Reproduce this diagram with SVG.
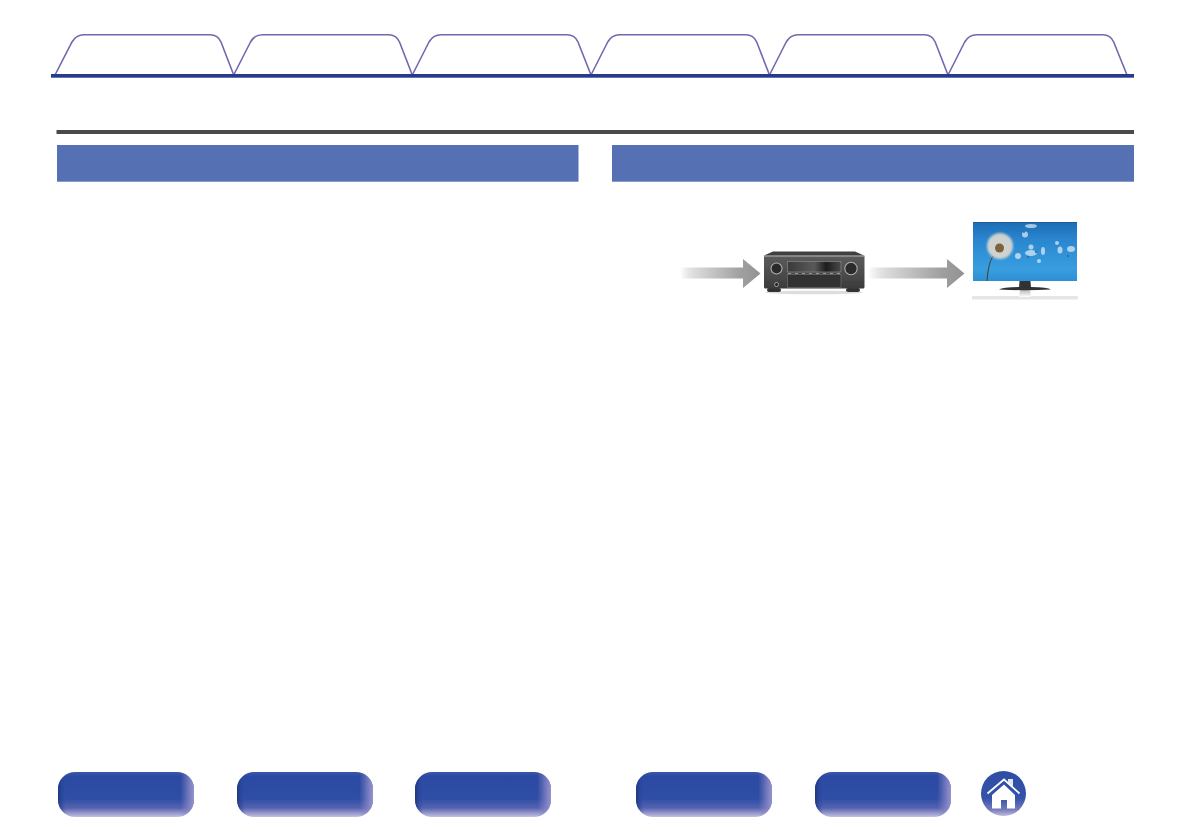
<svg xmlns="http://www.w3.org/2000/svg" width="1191" height="839" viewBox="0 0 1191 839">
<style>
.tab{fill:#fff;stroke:#7169b0;stroke-width:1.6}
.hdr{fill:#5570b3}
.rule{fill:#4a4a4a}
.base{fill:#243b8e}
.seed{fill:#fff;opacity:.6}
.seedd{fill:#34506f;opacity:.7}
</style>
<defs>
<linearGradient id="bv" x1="0" y1="0" x2="0" y2="1">
<stop offset="0" stop-color="#3a56a8"/><stop offset=".1" stop-color="#2c4aa2"/><stop offset=".6" stop-color="#2f4ea6"/><stop offset=".8" stop-color="#5563b0"/><stop offset="1" stop-color="#c5c0e0"/>
</linearGradient>
<linearGradient id="bh" x1="0" y1="0" x2="1" y2="0">
<stop offset="0" stop-color="#1f3378" stop-opacity=".85"/><stop offset=".06" stop-color="#2d4ca8" stop-opacity="0"/><stop offset=".9" stop-color="#8a86c4" stop-opacity="0"/><stop offset=".97" stop-color="#8f8bc8" stop-opacity=".8"/><stop offset="1" stop-color="#a09cd0" stop-opacity=".9"/>
</linearGradient>
<linearGradient id="hv" x1="0" y1="0" x2="0" y2="1">
<stop offset="0" stop-color="#2f4da5"/><stop offset=".6" stop-color="#3352a8"/><stop offset=".85" stop-color="#7379bb"/><stop offset="1" stop-color="#c0bbdd"/>
</linearGradient>
<linearGradient id="arr" x1="0" y1="0" x2="1" y2="0">
<stop offset="0" stop-color="#ccc" stop-opacity="0"/><stop offset=".18" stop-color="#dcdcdc"/><stop offset=".75" stop-color="#a0a0a0"/><stop offset="1" stop-color="#929292"/>
</linearGradient>
<linearGradient id="scr" x1="0" y1="0" x2="0" y2="1">
<stop offset="0" stop-color="#1d6db4"/><stop offset=".3" stop-color="#2a86cf"/><stop offset=".8" stop-color="#389ee0"/><stop offset="1" stop-color="#2d8fd4"/>
</linearGradient>
<linearGradient id="body" x1="0" y1="0" x2="0" y2="1">
<stop offset="0" stop-color="#5c5c5c"/><stop offset=".6" stop-color="#4a4a4a"/><stop offset="1" stop-color="#3a3a3a"/>
</linearGradient>
<linearGradient id="disp" x1="0" y1="0" x2="1" y2="0">
<stop offset="0" stop-color="#3a3a3a"/><stop offset=".5" stop-color="#5a5a5a"/><stop offset=".72" stop-color="#1d1d1d"/><stop offset="1" stop-color="#4a4a4a"/>
</linearGradient>
<linearGradient id="neck" x1="0" y1="0" x2="0" y2="1">
<stop offset="0" stop-color="#bbb"/><stop offset="1" stop-color="#fff"/>
</linearGradient>
<filter id="s" x="-5%" y="-5%" width="110%" height="110%"><feGaussianBlur stdDeviation=".4"/></filter>
<filter id="s1" x="-10%" y="-10%" width="120%" height="120%"><feGaussianBlur stdDeviation=".7"/></filter>
<filter id="s2" x="-30%" y="-30%" width="160%" height="160%"><feGaussianBlur stdDeviation="1"/></filter>
<g id="btn" filter="url(#s)"><rect width="136" height="45" rx="17" fill="url(#bv)"/><rect width="136" height="45" rx="17" fill="url(#bh)"/></g>
<clipPath id="sc"><rect x="973" y="222" width="104" height="59"/></clipPath>
</defs>

<g id="tabs">
<path id="tab-1" class="tab" d="M55 75L72 42Q76 34.700 84 34.700H210Q218 34.700 221 42L233.700 75"/>
<path id="tab-2" class="tab" d="M233.700 75L250.500 42Q254.500 34.700 262.500 34.700H388.500Q396.500 34.700 399.500 42L412.300 75"/>
<path id="tab-3" class="tab" d="M412.300 75L429 42Q433 34.700 441 34.700H567Q575 34.700 578 42L591 75"/>
<path id="tab-4" class="tab" d="M591 75L607.700 42Q611.700 34.700 619.700 34.700H745.700Q753.700 34.700 756.700 42L769.500 75"/>
<path id="tab-5" class="tab" d="M769.500 75L786.200 42Q790.200 34.700 798.200 34.700H924.200Q932.200 34.700 935.200 42L948 75"/>
<path id="tab-6" class="tab" d="M948 75L964.700 42Q968.700 34.700 976.700 34.700H1102.700Q1110.700 34.700 1113.700 42L1127 75"/>
<rect class="base" x="51" y="74" width="1083" height="3.700"/>
</g>

<rect id="rule" class="rule" x="56.500" y="130" width="1077.500" height="4"/>
<rect id="header-left" class="hdr" x="57" y="145" width="521.500" height="36.700"/>
<rect id="header-right" class="hdr" x="612" y="145" width="522" height="36.700"/>

<g id="connectors" filter="url(#s)">
<path d="M680 267.500H743V259L760.500 273.500L743 288V278.500H680Z" fill="url(#arr)"/>
<path d="M868 267.500H947V259L964.500 273.500L947 288V278.500H868Z" fill="url(#arr)"/>
</g>

<g id="receiver" filter="url(#s)">
<ellipse cx="814" cy="292.500" rx="49" ry="1.800" fill="#ddd"/>
<rect x="767" y="288" width="14" height="4" rx="2" fill="#333"/>
<rect x="846" y="288" width="14" height="4" rx="2" fill="#333"/>
<path d="M764 255.500L773 251.500H855L864 255.500Z" fill="#3f3f3f"/>
<rect x="764" y="255.500" width="100.500" height="33" rx="1.500" fill="url(#body)"/>
<rect x="764" y="255.500" width="100.500" height="1.500" fill="#888"/>
<circle cx="776.500" cy="268.500" r="5.500" fill="#2a2a2a" stroke="#b0b0b0" stroke-width="1.100"/>
<circle cx="851" cy="268.500" r="6.200" fill="#2a2a2a" stroke="#b0b0b0" stroke-width="1.100"/>
<rect x="787.500" y="261.500" width="53.500" height="10.500" fill="url(#disp)" stroke="#888" stroke-width=".7"/>
<rect x="787.500" y="274.500" width="53.500" height="13" fill="#333" stroke="#777" stroke-width=".6"/>
<path d="M788 273.500H840" stroke="#aaa" stroke-width=".8" stroke-dasharray="3 4"/>
<circle cx="776.500" cy="284.500" r="2" fill="#222" stroke="#ccc" stroke-width=".7"/>
</g>

<g id="monitor" filter="url(#s)">
<rect x="972" y="296" width="106" height="3.500" fill="#e6e6e6"/>
<path d="M1020 290H1030L1031 297H1019Z" fill="url(#neck)"/>
<path d="M1019.500 281H1030.500L1031 288H1019Z" fill="#333"/>
<path d="M999 289.500Q1002 287 1019 287H1031Q1048 287 1051 289.500Q1025 291 999 289.500Z" fill="#333"/>
<rect x="973" y="222" width="104" height="59" fill="url(#scr)"/>
<rect x="973" y="222" width="104" height=".8" fill="#1c5c90"/>
<g clip-path="url(#sc)">
<path d="M993 256Q988 264 987 281" fill="none" stroke="#4a3d2c" stroke-width="1"/>
<circle cx="1000" cy="246" r="13" fill="#eadfd0" opacity=".85" filter="url(#s2)"/>
<circle cx="999.500" cy="248" r="4.500" fill="#7d6238" filter="url(#s1)"/>
<g id="seeds" filter="url(#s1)">
<ellipse class="seed" cx="1031" cy="226" rx="6" ry="2"/><ellipse class="seed" cx="1025" cy="234.500" rx="3" ry="3"/>
<circle class="seed" cx="1018" cy="256" r="3"/><circle class="seed" cx="1031" cy="247" r="2.500"/>
<ellipse class="seed" cx="1031" cy="253" rx="6" ry="3"/><ellipse class="seed" cx="1043" cy="251" rx="2" ry="4"/>
<circle class="seed" cx="1039" cy="261" r="2"/><circle class="seed" cx="1057" cy="243" r="2"/>
<ellipse class="seed" cx="1060" cy="250" rx="2.500" ry="3.500"/><ellipse class="seed" cx="1071" cy="249" rx="4" ry="3"/>
<circle class="seedd" cx="1024" cy="232" r="1"/><circle class="seedd" cx="1036" cy="252" r="1.200"/><circle class="seedd" cx="1028" cy="257" r="1"/><circle class="seedd" cx="1068" cy="256" r="1"/>
</g>
</g>
</g>

<g id="btn-1"><use href="#btn" x="58" y="772"/></g>
<g id="btn-2"><use href="#btn" x="237" y="772"/></g>
<g id="btn-3"><use href="#btn" x="415" y="772"/></g>
<g id="btn-4"><use href="#btn" x="636" y="772"/></g>
<g id="btn-5"><use href="#btn" x="815" y="772"/></g>
<g id="btn-home">
<circle cx="1003.500" cy="793.500" r="22.500" fill="url(#hv)"/>
<path d="M1008 779H1013V787.500L1008 783Z" fill="#dfe3f2"/>
<path d="M987.500 793.500L1004 779.500L1019.500 793.500" fill="none" stroke="#fff" stroke-width="1.800"/>
<path d="M992 795L1004 784.500L1015 795V808.500H1007V800H1001V808.500H992Z" fill="#fff"/>
</g>
</svg>
